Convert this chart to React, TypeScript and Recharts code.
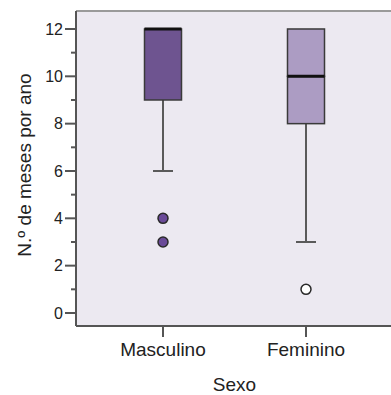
import React from 'react';
import { ComposedChart, Bar, Scatter, XAxis, YAxis, CartesianGrid, ReferenceLine } from 'recharts';

const categories = ['Masculino', 'Feminino'];
const whiskerLow = [6, 3];
const q1 = [9, 8];
const median = [12, 10];
const q3 = [12, 12];
const whiskerHigh = [12, 12];
const outlierA = [4, 1];
const outlierB: (number | null)[] = [3, null];
const yTicks = [0, 1, 2, 3, 4, 5, 6, 7, 8, 9, 10, 11, 12];
const yDomain = [-0.55, 12.76];

const boxColors = ['#6E5490', '#AC9CC3'];
const outlierFill = ['#6A4A98', '#FFFFFF'];
const FONT = '"Liberation Sans", Arial, Helvetica, sans-serif';

const data = categories.map((c, i) => ({
  sexo: c,
  idx: i,
  base: whiskerLow[i],
  lowWhisker: q1[i] - whiskerLow[i],
  lowerBox: median[i] - q1[i],
  upperBox: q3[i] - median[i],
  highWhisker: whiskerHigh[i] - q3[i],
  median: median[i],
  outA: outlierA[i],
  outB: outlierB[i],
}));

const Empty = () => <g />;

const LowWhisker = (p: any) => {
  const { x, y, width, height } = p;
  if (!(height > 0)) return <g />;
  const cx = x + width / 2;
  return (
    <g>
      <line x1={cx} x2={cx} y1={y} y2={y + height} stroke="#5a5a5a" strokeWidth={2} />
      <line x1={cx - 10} x2={cx + 10} y1={y + height} y2={y + height} stroke="#5a5a5a" strokeWidth={2} />
    </g>
  );
};

const HighWhisker = (p: any) => {
  const { x, y, width, height } = p;
  if (!(height > 0)) return <g />;
  const cx = x + width / 2;
  return (
    <g>
      <line x1={cx} x2={cx} y1={y} y2={y + height} stroke="#5a5a5a" strokeWidth={2} />
      <line x1={cx - 10} x2={cx + 10} y1={y} y2={y} stroke="#5a5a5a" strokeWidth={2} />
    </g>
  );
};

const BoxPart = (p: any) => {
  const { x, y, width, height, payload } = p;
  if (!(height > 0)) return <g />;
  return (
    <rect x={x} y={y} width={width} height={height} fill={boxColors[payload.idx]} stroke="#3a3a3a" strokeWidth={1.5} />
  );
};

const MedianLine = (p: any) => {
  const { cx, cy } = p;
  if (cx == null || cy == null) return <g />;
  return <line x1={cx - 18.5} x2={cx + 18.5} y1={cy} y2={cy} stroke="#111" strokeWidth={3} />;
};

const makeOutlier = (key: string) => (p: any) => {
  const { cx, cy, payload } = p;
  if (payload[key] == null || cx == null || cy == null) return <g />;
  return <circle cx={cx} cy={cy} r={5} fill={outlierFill[payload.idx]} stroke="#2a2a2a" strokeWidth={1.5} />;
};
const OutA = makeOutlier('outA');
const OutB = makeOutlier('outB');

const YTick = (p: any) => {
  const { x, y, payload } = p;
  const v = payload.value;
  const major = v % 2 === 0;
  return (
    <g>
      <line x1={x - (major ? 11 : 5)} x2={x} y1={y} y2={y} stroke="#555" strokeWidth={2} />
      {major && (
        <text x={x - 13} y={y} dy="0.36em" textAnchor="end" fontSize={16} fill="#222" fontFamily={FONT}>
          {v}
        </text>
      )}
    </g>
  );
};

export default function App() {
  return (
    <div style={{ position: 'absolute', left: 0, top: 0, width: 391, height: 395, overflow: 'hidden', background: '#fff' }}>
      <ComposedChart width={400} height={395} data={data} margin={{ top: 11, right: 7, bottom: 0, left: 0 }}>
        <CartesianGrid horizontal={false} vertical={false} fill="#ECE9F1" stroke="none" />
        <XAxis
          dataKey="sexo"
          type="category"
          padding={{ left: 15.5, right: 15.5 }}
          height={69}
          axisLine={{ stroke: '#555', strokeWidth: 2 }}
          tickLine={{ stroke: '#555', strokeWidth: 2 }}
          tickSize={11}
          tickMargin={6}
          tick={{ fontSize: 19, fill: '#222', fontFamily: FONT }}
          label={(props: any) => (
            <text x={234.5} y={391} textAnchor="middle" fontSize={19} fill="#222" fontFamily={FONT}>
              Sexo
            </text>
          )}
        />
        <YAxis
          type="number"
          domain={yDomain}
          ticks={yTicks}
          interval={0}
          allowDataOverflow
          width={76}
          tickSize={0}
          tickMargin={0}
          axisLine={{ stroke: '#555', strokeWidth: 2 }}
          tickLine={false}
          tick={<YTick />}
          label={(props: any) => (
            <text
              x={24}
              y={165}
              transform="rotate(-90 24 165)"
              textAnchor="middle"
              dominantBaseline="central"
              fontSize={19}
              fill="#222"
              fontFamily={FONT}
            >
              N.º de meses por ano
            </text>
          )}
        />
        <ReferenceLine y={yDomain[1]} stroke="#9a9a9a" strokeWidth={2} ifOverflow="visible" />
        <Bar dataKey="base" stackId="b" barSize={37} shape={<Empty />} isAnimationActive={false} />
        <Bar dataKey="lowWhisker" stackId="b" barSize={37} shape={<LowWhisker />} isAnimationActive={false} />
        <Bar dataKey="lowerBox" stackId="b" barSize={37} shape={<BoxPart />} isAnimationActive={false} />
        <Bar dataKey="upperBox" stackId="b" barSize={37} shape={<BoxPart />} isAnimationActive={false} />
        <Bar dataKey="highWhisker" stackId="b" barSize={37} shape={<HighWhisker />} isAnimationActive={false} />
        <Scatter dataKey="median" shape={<MedianLine />} isAnimationActive={false} />
        <Scatter dataKey="outA" shape={<OutA />} isAnimationActive={false} />
        <Scatter dataKey="outB" shape={<OutB />} isAnimationActive={false} />
      </ComposedChart>
    </div>
  );
}
